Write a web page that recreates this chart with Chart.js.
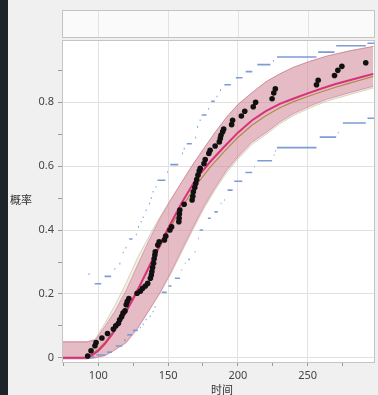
<!DOCTYPE html>
<html>
<head>
<meta charset="utf-8">
<script src="https://cdn.jsdelivr.net/npm/chart.js@4.4.1/dist/chart.umd.min.js"></script>
<style>
html, body { margin: 0; padding: 0; background: #f0f0f0; }
#wrap { position: relative; width: 378px; height: 395px; overflow: hidden; background: #f0f0f0; }
#strip { position: absolute; left: 0; top: 0; width: 8px; height: 395px; background: #1d2429; }
#c { position: absolute; left: 0; top: 0; }
.ttl { position: absolute; font: 11px "Noto Sans CJK SC", "Noto Sans", sans-serif; color: #333; white-space: nowrap; }
</style>
</head>
<body>
<div id="wrap">
  <canvas id="c" width="378" height="395"></canvas>
  <div id="strip"></div>
  <span class="ttl" style="left:10px; top:191px;">概率</span>
  <span class="ttl" style="left:211px; top:381px;">时间</span>
</div>
<script>
// Data points (time, probability)
var dataT = [92.4, 94.8, 97.6, 98.4, 102.6, 106.6, 110.8, 112.5, 114.4, 115.3, 116.7, 117.7, 119.1, 120.0, 120.7, 121.9,
  127.8, 130.2, 131.8, 133.7, 135.4, 137.3, 138.0, 138.4, 138.9, 139.6, 140.0, 140.5, 140.8, 142.6, 143.6, 147.4, 148.3,
  151.3, 152.5, 157.7, 157.9, 158.1, 158.4, 161.5, 167.2, 167.7, 168.1, 169.1, 169.8, 170.5, 171.4, 172.3, 173.0, 175.7,
  176.6, 179.2, 180.1, 183.7, 186.7, 187.4, 187.9, 189.1, 189.8, 195.5, 196.2, 202.5, 204.9, 211.0, 212.7, 224.5, 225.7,
  226.8, 256.3, 257.5, 269.2, 271.6, 274.5, 291.6];
var dataP = [0.006, 0.022, 0.038, 0.048, 0.062, 0.076, 0.09, 0.1, 0.108, 0.119, 0.129, 0.14, 0.147, 0.166, 0.176, 0.186,
  0.202, 0.209, 0.218, 0.225, 0.233, 0.249, 0.259, 0.27, 0.283, 0.296, 0.31, 0.322, 0.332, 0.353, 0.363, 0.369, 0.381,
  0.4, 0.41, 0.426, 0.437, 0.45, 0.463, 0.481, 0.494, 0.506, 0.52, 0.533, 0.546, 0.558, 0.572, 0.585, 0.593, 0.608,
  0.621, 0.64, 0.65, 0.663, 0.676, 0.687, 0.697, 0.708, 0.716, 0.73, 0.744, 0.757, 0.772, 0.786, 0.8, 0.811, 0.829,
  0.842, 0.855, 0.869, 0.884, 0.9, 0.9125, 0.924];

// Fitted CDF curves
var fitT = [74, 90, 92, 95, 100, 105, 110, 115, 120, 125, 130, 140, 150, 160, 170, 180, 190, 200, 210, 220, 230, 240, 250, 260, 270, 280, 290, 297];
var fitMain = [0, 0, 0.002, 0.007, 0.022, 0.045, 0.074, 0.108, 0.145, 0.185, 0.228, 0.318, 0.405, 0.487, 0.56, 0.613, 0.66, 0.705, 0.743, 0.772, 0.795, 0.812, 0.828, 0.843, 0.857, 0.869, 0.881, 0.889];
var fitAlt = [0, 0, 0.005, 0.011, 0.027, 0.05, 0.079, 0.113, 0.15, 0.189, 0.229, 0.313, 0.396, 0.472, 0.54, 0.596, 0.645, 0.69, 0.728, 0.758, 0.783, 0.802, 0.818, 0.833, 0.847, 0.86, 0.872, 0.881];

// Confidence bands of the fits
var bandT = [74, 92, 98, 105, 112, 120, 128, 136, 144, 152, 160, 168, 176, 184, 192, 200, 210, 220, 230, 240, 252, 264, 280, 297];
var mainUpper = [0.051, 0.051, 0.056, 0.1, 0.147, 0.212, 0.289, 0.365, 0.435, 0.495, 0.552, 0.607, 0.658, 0.708, 0.754, 0.793, 0.83, 0.864, 0.889, 0.91, 0.929, 0.945, 0.961, 0.975];
var mainLower = [-0.003, -0.003, 0, 0.007, 0.025, 0.047, 0.091, 0.146, 0.203, 0.268, 0.34, 0.41, 0.477, 0.535, 0.588, 0.629, 0.675, 0.705, 0.738, 0.765, 0.789, 0.81, 0.83, 0.85];
var altUpper = [0.048, 0.048, 0.06, 0.11, 0.165, 0.235, 0.312, 0.378, 0.44, 0.497, 0.552, 0.607, 0.658, 0.708, 0.754, 0.793, 0.83, 0.864, 0.889, 0.91, 0.929, 0.945, 0.961, 0.975];
var altLower = [-0.003, -0.003, 0, 0.008, 0.026, 0.05, 0.093, 0.146, 0.2, 0.263, 0.333, 0.403, 0.47, 0.528, 0.58, 0.622, 0.668, 0.699, 0.732, 0.759, 0.783, 0.804, 0.824, 0.845];

// Simultaneous bounds, steps as [start, end, level]
var stepsUpper = [[93.0, 93.7, 0.262], [97.4, 102.1, 0.232], [104.5, 109.2, 0.255], [111.5, 112.2, 0.278], [115.1, 115.8, 0.295],
  [117.5, 118.2, 0.33], [119.5, 120.2, 0.345], [122.1, 124.5, 0.372], [126.9, 127.6, 0.386], [128.5, 129.2, 0.41],
  [130.4, 131.1, 0.426], [131.8, 132.5, 0.44], [133.9, 134.6, 0.462], [136.3, 137.0, 0.483], [137.6, 138.3, 0.5],
  [138.9, 139.6, 0.52], [141.0, 141.7, 0.535], [142.4, 148.1, 0.556], [149.3, 150.0, 0.582], [151.6, 157.3, 0.605],
  [159.9, 160.6, 0.64], [161.2, 161.9, 0.655], [163.4, 167.0, 0.67], [169.3, 170.0, 0.69], [170.7, 171.4, 0.723],
  [172.6, 173.3, 0.744], [174.0, 177.6, 0.76], [178.7, 179.4, 0.78], [180.9, 183.4, 0.803], [184.7, 185.4, 0.818],
  [187.2, 187.9, 0.838], [190.3, 195.0, 0.855], [198.5, 203.3, 0.877], [205.6, 210.3, 0.896], [213.9, 223.3, 0.918],
  [225.2, 225.9, 0.93], [228.0, 256.3, 0.942], [257.5, 269.2, 0.957], [270.4, 291.6, 0.977], [292.8, 298, 0.985]];
var stepsLower = [[93.6, 97.2, 0.003], [98.6, 105.0, 0.009], [106.4, 109.9, 0.018], [112.5, 117.2, 0.037], [118.4, 119.8, 0.055],
  [120.7, 124.3, 0.072], [124.8, 128.3, 0.086], [129.7, 130.4, 0.095], [131.8, 132.5, 0.105], [133.9, 134.6, 0.12],
  [136.8, 137.5, 0.13], [138.9, 139.6, 0.145], [140.3, 141.0, 0.16], [141.4, 141.9, 0.176], [142.8, 143.4, 0.192],
  [145.5, 149.0, 0.205], [150.2, 152.5, 0.225], [154.9, 158.5, 0.249], [159.6, 160.1, 0.275], [162.0, 162.5, 0.296],
  [164.4, 165.6, 0.308], [169.1, 169.6, 0.332], [170.2, 170.7, 0.353], [171.4, 171.9, 0.374], [172.6, 175.0, 0.4],
  [177.3, 177.8, 0.42], [178.5, 180.6, 0.437], [183.2, 185.6, 0.457], [187.7, 188.2, 0.483], [190.3, 190.8, 0.494],
  [192.6, 196.2, 0.525], [197.4, 203.2, 0.553], [205.4, 210.3, 0.58], [211.5, 212.0, 0.598], [213.9, 224.5, 0.617],
  [225.7, 226.2, 0.635], [226.8, 227.3, 0.648], [228.0, 256.3, 0.658], [257.5, 258.0, 0.676], [258.6, 270.4, 0.691],
  [271.6, 272.1, 0.705], [273.9, 274.5, 0.72], [275.2, 291.6, 0.735], [292.8, 298, 0.75]];

// Axis ticks
var xTicks = [75, 100, 125, 150, 175, 200, 225, 250, 275];
var xLabels = [100, 150, 200, 250];
var yTicks = [0, 0.1, 0.2, 0.3, 0.4, 0.5, 0.6, 0.7, 0.8, 0.9];
var yLabels = [0, 0.2, 0.4, 0.6, 0.8];

function pts(xs, ys) {
    return xs.map(function(x, i) { return {x: x, y: ys[i]}; });
}

// each step becomes a short horizontal piece, null breaks the line
function steps(list) {
    var out = [];
    list.forEach(function(s) {
        out.push({x: s[0], y: s[2]}, {x: s[1], y: s[2]}, {x: s[1], y: null});
    });
    return out;
}

// white plot area, top panel box and frame
var framePlugin = {
    id: 'frame',
    beforeDraw: function(chart) {
        var ctx = chart.ctx, a = chart.chartArea, xs = chart.scales.x;
        ctx.save();
        ctx.fillStyle = '#ffffff';
        ctx.fillRect(a.left, a.top, a.right - a.left, a.bottom - a.top);
        // empty top panel
        var top = a.top - 30, h = 27;
        ctx.fillStyle = '#fafafa';
        ctx.fillRect(a.left, top, a.right - a.left, h);
        ctx.strokeStyle = '#e2e2e2';
        ctx.lineWidth = 1;
        xLabels.forEach(function(v) {
            var px = Math.round(xs.getPixelForValue(v)) + 0.5;
            ctx.beginPath(); ctx.moveTo(px, top); ctx.lineTo(px, top + h); ctx.stroke();
        });
        ctx.strokeStyle = '#c4c4c4';
        ctx.strokeRect(a.left + 0.5, top + 0.5, a.right - a.left, h);
        ctx.restore();
    },
    afterDraw: function(chart) {
        var ctx = chart.ctx, a = chart.chartArea;
        ctx.save();
        ctx.strokeStyle = '#c4c4c4';
        ctx.lineWidth = 1;
        ctx.strokeRect(a.left + 0.5, a.top + 0.5, a.right - a.left, a.bottom - a.top);
        ctx.restore();
    }
};

var ctx = document.getElementById('c').getContext('2d');
var chart = new Chart(ctx, {
    type: 'scatter',
    data: {
        datasets: [
            { // observed points
                data: pts(dataT, dataP), showLine: false,
                pointRadius: 2.8, pointBackgroundColor: '#111111', pointBorderWidth: 0, order: 0
            },
            { // main fit
                data: pts(fitT, fitMain), showLine: true, pointRadius: 0,
                borderColor: '#d8307c', borderWidth: 2, order: 1
            },
            { // second fit
                data: pts(fitT, fitAlt), showLine: true, pointRadius: 0,
                borderColor: '#b08a44', borderWidth: 1.2, order: 2
            },
            { // upper simultaneous bound
                data: steps(stepsUpper), showLine: true, spanGaps: false, pointRadius: 0,
                borderColor: '#7f9bd6', borderWidth: 1.6, order: 3
            },
            { // lower simultaneous bound
                data: steps(stepsLower), showLine: true, spanGaps: false, pointRadius: 0,
                borderColor: '#7f9bd6', borderWidth: 1.6, order: 3
            },
            { // main band upper
                data: pts(bandT, mainUpper), showLine: true, pointRadius: 0,
                borderColor: 'rgba(205,100,140,0.5)', borderWidth: 1,
                backgroundColor: 'rgba(212,100,140,0.36)', fill: '+1', order: 4
            },
            { // main band lower
                data: pts(bandT, mainLower), showLine: true, pointRadius: 0,
                borderColor: 'rgba(205,100,140,0.5)', borderWidth: 1, order: 4
            },
            { // second band upper
                data: pts(bandT, altUpper), showLine: true, pointRadius: 0,
                borderColor: 'rgba(190,182,150,0.55)', borderWidth: 1,
                backgroundColor: 'rgba(205,198,170,0.3)', fill: '+1', order: 5
            },
            { // second band lower
                data: pts(bandT, altLower), showLine: true, pointRadius: 0,
                borderColor: 'rgba(190,182,150,0.55)', borderWidth: 1, order: 5
            }
        ]
    },
    options: {
        responsive: false,
        animation: false,
        layout: { padding: { top: 40, left: 0, right: 0, bottom: 0 } },
        plugins: { legend: { display: false }, tooltip: { enabled: false } },
        scales: {
            x: {
                type: 'linear', min: 74, max: 297.5,
                afterBuildTicks: function(scale) { scale.ticks = xTicks.map(function(v) { return {value: v}; }); },
                afterFit: function(scale) { scale.height = 33; },
                ticks: {
                    autoSkip: false, maxRotation: 0, padding: 3, color: '#444',
                    font: { family: 'Noto Sans', size: 11 },
                    callback: function(v) { return xLabels.indexOf(v) >= 0 ? String(v) : ''; }
                },
                grid: {
                    color: function(c) { return c.tick && xLabels.indexOf(c.tick.value) >= 0 ? '#e2e2e2' : 'rgba(0,0,0,0)'; },
                    tickColor: '#999', tickLength: 4
                },
                border: { display: false }
            },
            y: {
                type: 'linear', min: -0.013, max: 0.995,
                afterBuildTicks: function(scale) { scale.ticks = yTicks.map(function(v) { return {value: v}; }); },
                afterFit: function(scale) { scale.width = 62; },
                ticks: {
                    autoSkip: false, padding: 4, color: '#444',
                    font: { family: 'Noto Sans', size: 11 },
                    callback: function(v) {
                        var r = Math.round(v * 10) / 10;
                        return yLabels.indexOf(r) >= 0 ? String(r) : '';
                    }
                },
                grid: {
                    color: function(c) {
                        if (!c.tick) return 'rgba(0,0,0,0)';
                        var r = Math.round(c.tick.value * 10) / 10;
                        return yLabels.indexOf(r) >= 0 ? '#e2e2e2' : 'rgba(0,0,0,0)';
                    },
                    tickColor: '#999', tickLength: 4
                },
                border: { display: false }
            }
        }
    },
    plugins: [framePlugin]
});
</script>
</body>
</html>
